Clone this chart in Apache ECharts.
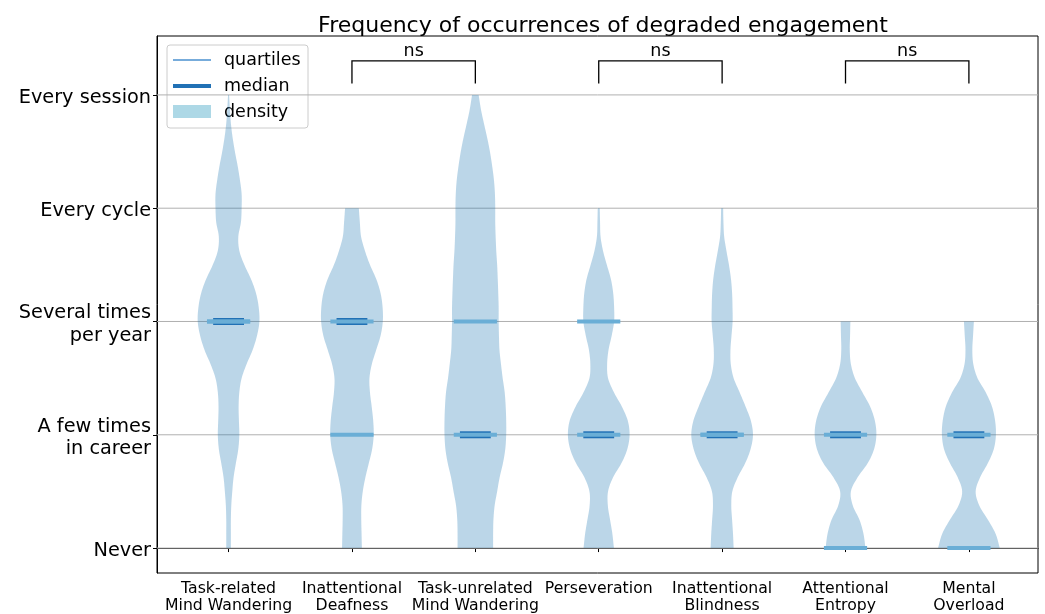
<!DOCTYPE html>
<html><head><meta charset="utf-8">
<script src="https://cdn.jsdelivr.net/npm/echarts@6/dist/echarts.min.js"></script>
<style>html,body{margin:0;padding:0;background:#fff}#c{width:1045px;height:614px}</style>
</head><body><div id="c"></div>
<script>
// ---------------- data ----------------
const categories = [
  'Task-related\nMind Wandering',
  'Inattentional\nDeafness',
  'Task-unrelated\nMind Wandering',
  'Perseveration',
  'Inattentional\nBlindness',
  'Attentional\nEntropy',
  'Mental\nOverload'
];
const yTickValues = [0, 1, 2, 3, 4];
const yTickLabels = ['Never', 'A few times\nin career', 'Several times\nper year', 'Every cycle', 'Every session'];

// density estimate (relative units) at levels 0, 0.125, ..., 4 ; null = beyond data range
const densityLevels = [0, 0.125, 0.25, 0.375, 0.5, 0.625, 0.75, 0.875, 1, 1.125, 1.25, 1.375, 1.5, 1.625, 1.75, 1.875,
                       2, 2.125, 2.25, 2.375, 2.5, 2.625, 2.75, 2.875, 3, 3.125, 3.25, 3.375, 3.5, 3.625, 3.75, 3.875, 4];
const densityTaskRelatedMW   = [2.3, 2.3, 2.3, 2.7, 3.7, 5, 7.3, 9.7, 10.7, 10.3, 10, 10.7, 13, 18, 24, 28.3,
                                30.7, 30, 27.3, 22.3, 15.7, 10.7, 9.7, 12.3, 13, 13, 11.3, 9, 6.3, 4, 2.3, 1.3, 0.5];
const densityInattDeafness   = [9.8, 9.5, 9.2, 9.3, 10.7, 13.3, 16.7, 20, 21.5, 21, 19.5, 17.8, 17.3, 19.7, 24, 28.3,
                                30.5, 30.3, 28.3, 24, 17.8, 12.8, 9, 7.8, 6.8, null, null, null, null, null, null, null, null];
const densityTaskUnrelatedMW = [17.7, 17.7, 18, 19.2, 21.7, 24.2, 27.5, 29.8, 30.7, 30.7, 30.2, 29.2, 27.2, 25.5, 24, 23.5,
                                23.2, 23.2, 22.8, 22.3, 21.7, 20.8, 20.2, 19.8, 19.8, 19.5, 18.5, 16.7, 14.5, 11.7, 8.5, 5.5, 3.3];
const densityPerseveration   = [15, 13.5, 11.2, 9, 9.2, 14.2, 22.5, 28.3, 30.5, 28.7, 22.8, 15, 9.2, 8.3, 9.7, 12.8,
                                15.2, 15.2, 14.3, 12, 8, 4.2, 1.8, 1.3, 1, null, null, null, null, null, null, null, null];
const densityInattBlindness  = [11.3, 10.7, 9.8, 9, 10, 15.3, 22.7, 28, 30.3, 28.2, 23, 17.2, 11.3, 8.5, 8.2, 9.2,
                                10.3, 10.2, 9.8, 8.7, 6.7, 4.2, 2, 1.3, 1, null, null, null, null, null, null, null, null];
const densityAttEntropy      = [19.7, 17.8, 13.8, 7.2, 5.3, 12, 22, 28.3, 30.5, 29, 24.3, 16.7, 9.3, 5.3, 4.2, 4.5,
                                4.8, null, null, null, null, null, null, null, null, null, null, null, null, null, null, null, null];
const densityMentalOverload  = [29.7, 25.8, 18.3, 10, 6.5, 10.8, 18.3, 24, 26, 25.2, 22.2, 16.2, 8.3, 4.2, 3.3, 4,
                                4.8, null, null, null, null, null, null, null, null, null, null, null, null, null, null, null, null];
const densities = [densityTaskRelatedMW, densityInattDeafness, densityTaskUnrelatedMW, densityPerseveration,
                   densityInattBlindness, densityAttEntropy, densityMentalOverload];

const medians   = [2, 2, 1, 1, 1, 1, 1];
const quartile1 = [2, 1, 1, 1, 1, 0, 0];
const quartile3 = [2, 2, 2, 2, 1, 1, 1];

const bracketPairs  = [[2, 3], [4, 5], [6, 7]];
const bracketLabels = ['ns', 'ns', 'ns'];

// ---------------- layout constants ----------------
const X_MIN = 0.42, X_MAX = 7.56, Y_MIN = -0.22, Y_MAX = 4.52;
const VIOLIN_HALF = 0.25, MEDIAN_HALF = 0.125, QUART_HALF = 0.175;
const FONT = 'DejaVu Sans';

function splinePts(pts, n) {
  const out = [pts[0]];
  for (let k = 0; k < pts.length - 1; k++) {
    const p0 = pts[k - 1] || pts[k], p1 = pts[k], p2 = pts[k + 1], p3 = pts[k + 2] || pts[k + 1];
    const c1 = [p1[0] + (p2[0] - p0[0]) / 6, p1[1] + (p2[1] - p0[1]) / 6];
    const c2 = [p2[0] - (p3[0] - p1[0]) / 6, p2[1] - (p3[1] - p1[1]) / 6];
    for (let s = 1; s <= n; s++) {
      const t = s / n, u = 1 - t;
      out.push([
        u*u*u*p1[0] + 3*u*u*t*c1[0] + 3*u*t*t*c2[0] + t*t*t*p2[0],
        u*u*u*p1[1] + 3*u*u*t*c1[1] + 3*u*t*t*c2[1] + t*t*t*p2[1]
      ]);
    }
  }
  return out;
}

function violinRender(params, api) {
  const i = params.dataIndex, pos = i + 1;
  const dens = densities[i];
  let maxD = 0;
  dens.forEach(d => { if (d != null && d > maxD) maxD = d; });
  const right = [], left = [];
  dens.forEach((d, j) => {
    if (d == null) return;
    const hw = VIOLIN_HALF * d / maxD;
    right.push(api.coord([pos + hw, densityLevels[j]]));
    left.push(api.coord([pos - hw, densityLevels[j]]));
  });
  const poly = splinePts(right, 6).concat(splinePts(left.slice().reverse(), 6));
  const children = [{
    type: 'polygon', shape: { points: poly },
    style: { fill: 'rgba(31,119,180,0.3)', stroke: null }
  }];
  const m0 = api.coord([pos - MEDIAN_HALF, medians[i]]), m1 = api.coord([pos + MEDIAN_HALF, medians[i]]);
  children.push({ type: 'line', shape: { x1: m0[0], y1: m0[1], x2: m1[0], y2: m1[1] },
    style: { stroke: '#2171b5', lineWidth: 7 } });
  [quartile1[i], quartile3[i]].forEach(q => {
    const a = api.coord([pos - QUART_HALF, q]), b = api.coord([pos + QUART_HALF, q]);
    children.push({ type: 'line', shape: { x1: a[0], y1: a[1], x2: b[0], y2: b[1] },
      style: { stroke: '#6aaed6', lineWidth: 4 } });
  });
  return { type: 'group', children };
}

function gridRender(params, api) {
  const v = yTickValues[params.dataIndex];
  const a = api.coord([X_MIN, v]), b = api.coord([X_MAX, v]);
  return { type: 'group', children: [
    { type: 'line', shape: { x1: a[0], y1: a[1], x2: b[0], y2: b[1] },
      style: { stroke: '#b0b0b0', lineWidth: 1 } },
    { type: 'text', x: a[0] - 6, y: a[1] + 3,
      style: { text: yTickLabels[params.dataIndex], font: '19.3px "' + FONT + '"', fill: '#000',
               align: 'right', verticalAlign: 'middle', lineHeight: 22.5 } }
  ]};
}

function bracketRender(params, api) {
  const [a, b] = bracketPairs[params.dataIndex];
  const p1 = api.coord([a, 4.10]), p2 = api.coord([a, 4.30]), p3 = api.coord([b, 4.30]), p4 = api.coord([b, 4.10]);
  return { type: 'group', children: [
    { type: 'polyline', shape: { points: [p1, p2, p3, p4] }, style: { stroke: '#000', lineWidth: 1.3, fill: null } },
    { type: 'text', x: (p2[0] + p3[0]) / 2, y: p2[1] - 9,
      style: { text: bracketLabels[params.dataIndex], font: '17.5px "' + FONT + '"', fill: '#000',
               align: 'center', verticalAlign: 'middle' } }
  ]};
}

const chart = echarts.init(document.getElementById('c'), null, { renderer: 'canvas' });
chart.setOption({
  animation: false,
  backgroundColor: '#fff',
  title: {
    text: 'Frequency of occurrences of degraded engagement',
    left: 598, top: 10, textAlign: 'center',
    textStyle: { fontFamily: FONT, fontSize: 22, fontWeight: 'normal', color: '#000' }
  },
  grid: { left: 157, right: 7, top: 36, bottom: 41, show: true, borderColor: '#000', borderWidth: 1, backgroundColor: 'transparent' },
  xAxis: {
    type: 'value', min: X_MIN, max: X_MAX,
    axisLine: { show: true, lineStyle: { color: '#000', width: 1 } },
    axisTick: { show: true, customValues: categories.map((c, i) => i + 1), length: 4, lineStyle: { color: '#000' } },
    axisLabel: { customValues: categories.map((c, i) => i + 1), formatter: v => categories[Math.round(v) - 1],
      fontFamily: FONT, fontSize: 15.7, color: '#000', margin: 7, lineHeight: 17 },
    splitLine: { show: false }
  },
  yAxis: {
    type: 'value', min: Y_MIN, max: Y_MAX,
    axisLine: { show: true, lineStyle: { color: '#000', width: 1 } },
    axisTick: { show: true, customValues: yTickValues, length: 4, lineStyle: { color: '#000' } },
    axisLabel: { show: false },
    splitLine: { show: false }
  },
  series: [
    { type: 'custom', name: 'grid', z: 1, silent: true, clip: false, renderItem: gridRender, data: yTickValues.map(v => [v]) },
    { type: 'custom', name: 'violins', z: 2, silent: true, renderItem: violinRender, data: categories.map((c, i) => [i + 1]) },
    { type: 'custom', name: 'brackets', z: 3, silent: true, renderItem: bracketRender, data: bracketPairs.map(p => p) }
  ],
  graphic: [
    { type: 'group', z: 100, children: [
      { type: 'rect', shape: { x: 167, y: 45, width: 141, height: 83, r: 3 },
        style: { fill: 'rgba(255,255,255,0.8)', stroke: '#cccccc', lineWidth: 1 } },
      { type: 'line', shape: { x1: 173, y1: 60, x2: 211, y2: 60 }, style: { stroke: '#4a90cf', lineWidth: 1.5 } },
      { type: 'line', shape: { x1: 173, y1: 86, x2: 211, y2: 86 }, style: { stroke: '#2171b5', lineWidth: 4 } },
      { type: 'rect', shape: { x: 173, y: 105, width: 38, height: 13 }, style: { fill: '#add8e6' } },
      { type: 'text', x: 224, y: 60, style: { text: 'quartiles', font: '17.5px "' + FONT + '"', fill: '#000', verticalAlign: 'middle' } },
      { type: 'text', x: 224, y: 86, style: { text: 'median', font: '17.5px "' + FONT + '"', fill: '#000', verticalAlign: 'middle' } },
      { type: 'text', x: 224, y: 112, style: { text: 'density', font: '17.5px "' + FONT + '"', fill: '#000', verticalAlign: 'middle' } }
    ]}
  ]
});
</script>
</body></html>
